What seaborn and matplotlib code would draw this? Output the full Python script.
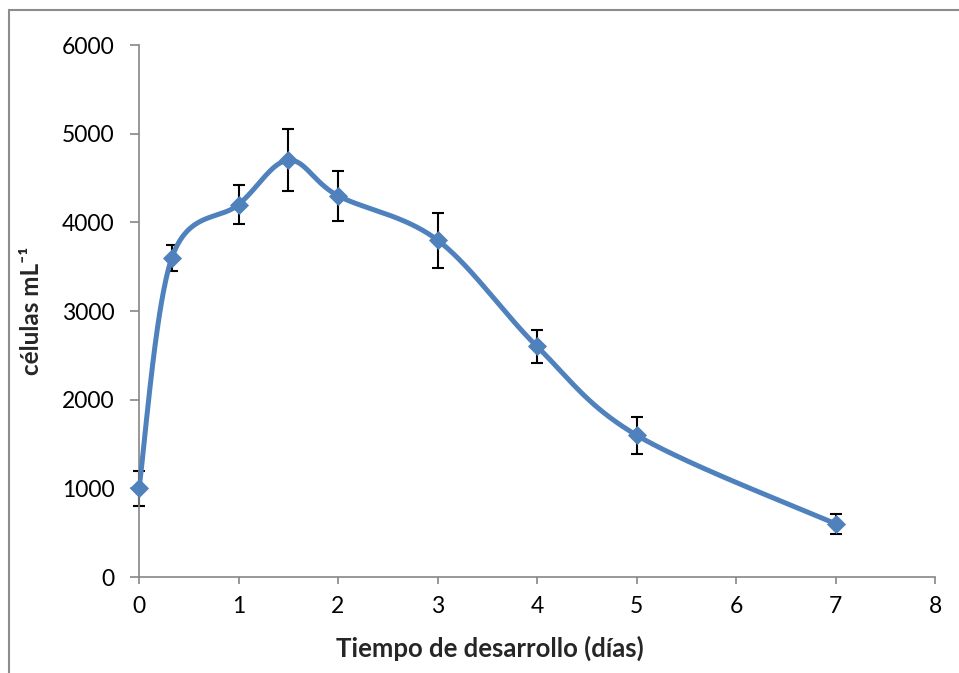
import numpy as np
import pandas as pd
import matplotlib
matplotlib.use("Agg")
import matplotlib.pyplot as plt
import seaborn as sns
from matplotlib.patches import Rectangle

# ---- data ----
dias = [0, 0.33, 1, 1.5, 2, 3, 4, 5, 7]
celulas = [1000, 3600, 4200, 4700, 4300, 3800, 2600, 1600, 600]
error = [200, 150, 220, 350, 280, 310, 190, 210, 110]
xticks = [0, 1, 2, 3, 4, 5, 6, 7, 8]
yticks = [0, 1000, 2000, 3000, 4000, 5000, 6000]

sns.set_style("white")
plt.rcParams['font.family'] = ['Lato', 'DejaVu Sans']

LINE = "#4F81BD"
AXC = "#868686"

fig = plt.figure(figsize=(9.59, 6.73), dpi=100)
ax = fig.add_axes([139/959, 1-577/673, (935-139)/959, (577-45)/673])
ax.set_xlim(0, 8)
ax.set_ylim(0, 6000)

df = pd.DataFrame({"dias": dias, "celulas": celulas, "error": error})

# Excel-style smoothed line (Catmull-Rom Bezier) computed in display space
pts = ax.transData.transform(np.column_stack([df["dias"], df["celulas"]]))
n = len(pts)
curve = []
for i in range(n - 1):
    p0 = pts[i - 1] if i > 0 else pts[i]
    p1 = pts[i]
    p2 = pts[i + 1]
    p3 = pts[i + 2] if i + 2 < n else pts[i + 1]
    c1 = p1 + (p2 - p0) / 6.0
    c2 = p2 - (p3 - p1) / 6.0
    t = np.linspace(0, 1, 60)[:, None]
    seg = ((1 - t) ** 3) * p1 + 3 * ((1 - t) ** 2) * t * c1 + 3 * (1 - t) * t ** 2 * c2 + t ** 3 * p2
    curve.append(seg if i == 0 else seg[1:])
curve = ax.transData.inverted().transform(np.vstack(curve))
smooth = pd.DataFrame({"x": curve[:, 0], "y": curve[:, 1]})

ax.errorbar(df["dias"], df["celulas"], yerr=df["error"], fmt="none",
            ecolor="black", elinewidth=1.5, capsize=4.5, capthick=1.5,
            zorder=2, clip_on=False)
sns.lineplot(data=smooth, x="x", y="y", sort=False, ax=ax, color=LINE,
             linewidth=3.6, zorder=3, estimator=None)
sns.scatterplot(data=df, x="dias", y="celulas", ax=ax, marker="D", s=95,
                color=LINE, edgecolor=LINE, linewidth=0, zorder=4, clip_on=False)

ax.set_xlim(0, 8)
ax.set_ylim(0, 6000)
ax.set_xticks(xticks)
ax.set_yticks(yticks)
ax.set_xticklabels([str(v) for v in xticks])
ax.set_yticklabels([str(v) for v in yticks])

for s in ["top", "right"]:
    ax.spines[s].set_visible(False)
for s in ["left", "bottom"]:
    ax.spines[s].set_color(AXC)
    ax.spines[s].set_linewidth(1.2)

ax.tick_params(axis="y", direction="out", length=6.5, width=1.2, color=AXC,
               labelsize=16.5, pad=11, left=True, labelcolor="black")
ax.tick_params(axis="x", direction="out", length=5, width=1.2, color=AXC,
               labelsize=16.5, pad=9, bottom=True, labelcolor="black")

ax.set_xlabel("Tiempo de desarrollo (días)", fontsize=18.5, fontweight="bold")
ax.set_ylabel("células mL⁻¹", fontsize=17.5, fontweight="bold")
ax.xaxis.set_label_coords(0.441, -0.111)
ax.yaxis.set_label_coords(-0.12, 0.5)

# chart-area frame
fig.patches.append(Rectangle((9/959, -0.1), 1.2, 1 - 10/673 + 0.1,
                             transform=fig.transFigure, fill=False,
                             edgecolor="#8C8C8C", linewidth=1.5))

fig.savefig("out.png", dpi=100)
